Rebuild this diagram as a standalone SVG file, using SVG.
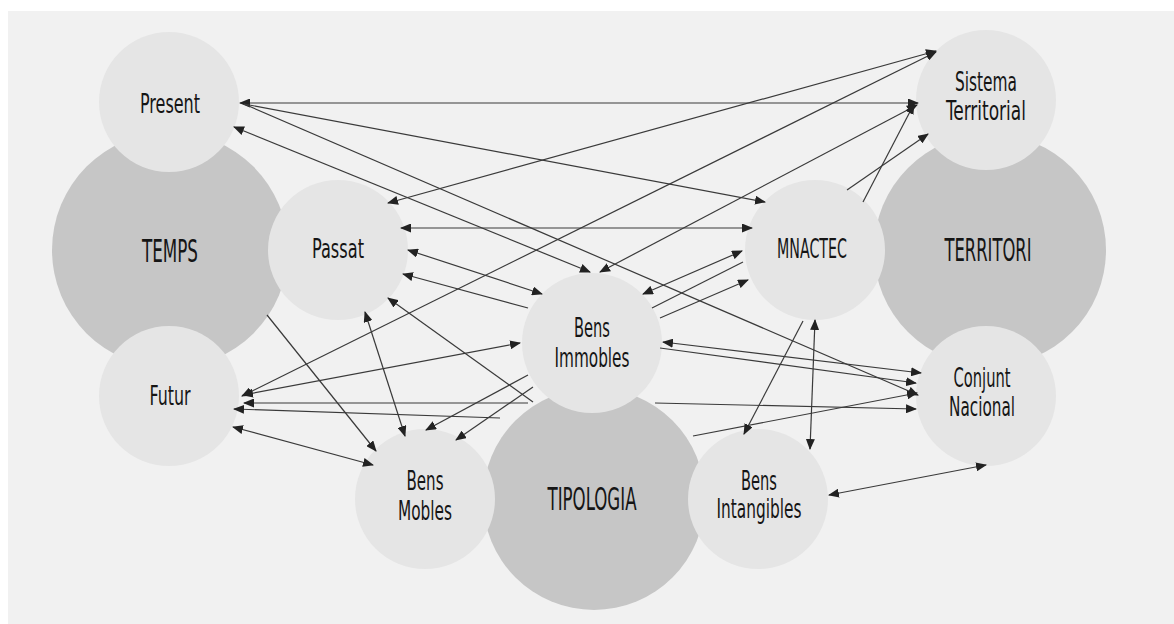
<svg xmlns="http://www.w3.org/2000/svg" width="1174" height="624" viewBox="0 0 1174 624">
<defs>
<marker id="ah" markerUnits="userSpaceOnUse" markerWidth="11" markerHeight="9" refX="10" refY="4.5" orient="auto-start-reverse" viewBox="0 0 11 9">
<path d="M0,0 L11,4.5 L0,9 Z" fill="#222"/>
</marker>
</defs>
<style>
.big{fill:#c6c6c6}
.sm{fill:#e5e5e5}
.t{font-family:"DejaVu Sans Condensed","DejaVu Sans",sans-serif;font-stretch:condensed;font-size:26px;fill:#151515;text-anchor:middle}
.tb{font-family:"DejaVu Sans Condensed","DejaVu Sans",sans-serif;font-stretch:condensed;font-size:32px;fill:#151515;text-anchor:middle}
.c line{stroke:#3a3a3a;stroke-width:1.2;fill:none}
.a2{marker-start:url(#ah);marker-end:url(#ah)}
.a1{marker-end:url(#ah)}
</style>
<rect x="0" y="0" width="1174" height="624" fill="#ffffff"/>
<rect x="8" y="11" width="1166" height="613" fill="#f1f1f1"/>

<g id="temps"><circle class="big" cx="170" cy="250" r="118"/><text class="tb" x="170" y="262" textLength="56" lengthAdjust="spacingAndGlyphs">TEMPS</text></g>
<g id="territori"><circle class="big" cx="990" cy="250" r="116"/><text class="tb" x="988" y="261" textLength="87" lengthAdjust="spacingAndGlyphs">TERRITORI</text></g>
<g id="tipologia"><circle class="big" cx="594" cy="499" r="111"/><text class="tb" x="592" y="510" textLength="89" lengthAdjust="spacingAndGlyphs">TIPOLOGIA</text></g>

<g id="present"><circle class="sm" cx="169" cy="102" r="70"/><text class="t" x="170" y="113" textLength="60" lengthAdjust="spacingAndGlyphs">Present</text></g>
<g id="passat"><circle class="sm" cx="338" cy="250" r="70"/><text class="t" x="338" y="258" textLength="52" lengthAdjust="spacingAndGlyphs">Passat</text></g>
<g id="futur"><circle class="sm" cx="169" cy="396" r="70"/><text class="t" x="170" y="405" textLength="41" lengthAdjust="spacingAndGlyphs">Futur</text></g>
<g id="bens-immobles"><circle class="sm" cx="592" cy="343" r="70"/><text class="t" x="592" y="337" textLength="36" lengthAdjust="spacingAndGlyphs">Bens</text><text class="t" x="592" y="367" textLength="75" lengthAdjust="spacingAndGlyphs">Immobles</text></g>
<g id="bens-mobles"><circle class="sm" cx="425" cy="499" r="70"/><text class="t" x="425" y="490" textLength="37" lengthAdjust="spacingAndGlyphs">Bens</text><text class="t" x="425" y="520" textLength="54" lengthAdjust="spacingAndGlyphs">Mobles</text></g>
<g id="bens-intangibles"><circle class="sm" cx="758" cy="499" r="70"/><text class="t" x="759" y="490" textLength="36" lengthAdjust="spacingAndGlyphs">Bens</text><text class="t" x="759" y="518" textLength="85" lengthAdjust="spacingAndGlyphs">Intangibles</text></g>
<g id="mnactec"><circle class="sm" cx="815" cy="250" r="70"/><text class="t" x="812" y="258" textLength="70" lengthAdjust="spacingAndGlyphs">MNACTEC</text></g>
<g id="sistema-territorial"><circle class="sm" cx="986" cy="100" r="70"/><text class="t" x="986" y="91" textLength="62" lengthAdjust="spacingAndGlyphs">Sistema</text><text class="t" x="986" y="120" textLength="80" lengthAdjust="spacingAndGlyphs">Territorial</text></g>
<g id="conjunt-nacional"><circle class="sm" cx="986" cy="396" r="70"/><text class="t" x="982" y="387" textLength="57" lengthAdjust="spacingAndGlyphs">Conjunt</text><text class="t" x="982" y="416" textLength="66" lengthAdjust="spacingAndGlyphs">Nacional</text></g>

<g id="connectors" class="c">
<line class="a2" x1="240" y1="103" x2="918" y2="103"/>
<line class="a1" x1="244" y1="104" x2="765" y2="202"/>
<line class="a1" x1="244" y1="104" x2="918" y2="395"/>
<line class="a2" x1="234" y1="127" x2="590" y2="272"/>
<line class="a2" x1="388" y1="203" x2="936" y2="51"/>
<line class="a2" x1="242" y1="396" x2="936" y2="52"/>
<line class="a2" x1="600" y1="272" x2="917" y2="105"/>
<line class="a1" x1="863" y1="202" x2="914" y2="104"/>
<line class="a1" x1="847" y1="190" x2="928" y2="134"/>
<line class="a2" x1="401" y1="228" x2="752" y2="228"/>
<line class="a2" x1="408" y1="250" x2="542" y2="294"/>
<line class="a1" x1="528" y1="308" x2="403" y2="274"/>
<line class="a1" x1="533" y1="402" x2="388" y2="298"/>
<line class="a2" x1="365" y1="312" x2="405" y2="436"/>
<line class="a1" x1="267" y1="315" x2="376" y2="451"/>
<line class="a2" x1="243" y1="395" x2="520" y2="343"/>
<line class="a1" x1="528" y1="403" x2="244" y2="403"/>
<line class="a1" x1="500" y1="418" x2="234" y2="409"/>
<line class="a2" x1="233" y1="427" x2="373" y2="465"/>
<line class="a1" x1="528" y1="375" x2="426" y2="430"/>
<line class="a1" x1="533" y1="387" x2="456" y2="440"/>
<line class="a2" x1="643" y1="294" x2="742" y2="251"/>
<line x1="652" y1="308" x2="743" y2="262"/>
<line class="a1" x1="660" y1="318" x2="748" y2="280"/>
<line class="a2" x1="663" y1="342" x2="921" y2="373"/>
<line class="a1" x1="660" y1="348" x2="916" y2="383"/>
<line class="a1" x1="655" y1="403" x2="916" y2="409"/>
<line class="a1" x1="693" y1="436" x2="917" y2="393"/>
<line class="a1" x1="803" y1="321" x2="744" y2="434"/>
<line class="a2" x1="815" y1="320" x2="810" y2="449"/>
<line class="a2" x1="829" y1="495" x2="986" y2="465"/>
</g>
</svg>
